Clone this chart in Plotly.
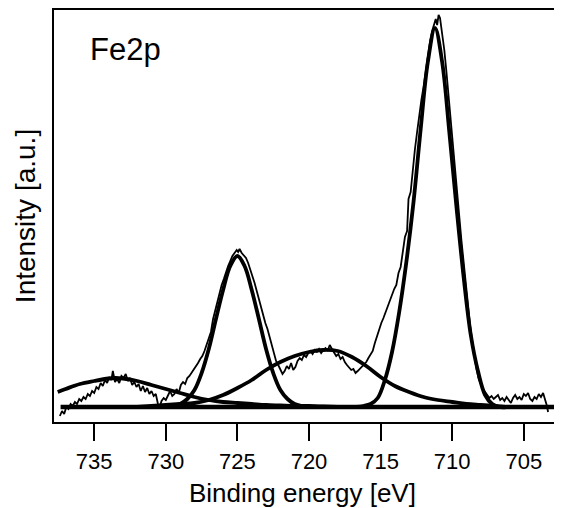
import plotly.graph_objects as go

# --- measured Fe2p spectrum (binding energy in eV, intensity in a.u.) ---
spec_be = [737.4, 737.25, 737.1, 736.95, 736.8, 736.65, 736.5, 736.35, 736.2, 736.05,
           735.9, 735.75, 735.6, 735.45, 735.3, 735.15, 735.0, 734.85, 734.7, 734.55,
           734.4, 734.25, 734.1, 733.95, 733.8, 733.7, 733.55, 733.4, 733.25, 733.1,
           732.95, 732.8, 732.65, 732.5, 732.35, 732.2, 732.05, 731.9, 731.75, 731.6,
           731.45, 731.3, 731.15, 731.0, 730.85, 730.7, 730.55, 730.45, 730.3, 730.15,
           730.0, 729.85, 729.7, 729.55, 729.4, 729.25, 729.1, 728.95, 728.8, 728.65,
           728.5, 728.35, 728.2, 728.05, 727.9, 727.75, 727.6, 727.45, 727.3, 727.15,
           727.0, 726.85, 726.7, 726.55, 726.4, 726.25, 726.1, 725.95, 725.8, 725.65,
           725.5, 725.35, 725.2, 725.05, 724.95, 724.85, 724.7, 724.55, 724.4, 724.25,
           724.1, 723.95, 723.8, 723.65, 723.5, 723.35, 723.2, 723.05, 722.9, 722.75,
           722.6, 722.45, 722.3, 722.15, 722.0, 721.85, 721.7, 721.55, 721.4, 721.25,
           721.1, 720.95, 720.8, 720.65, 720.5, 720.35, 720.2, 720.05, 719.9, 719.75,
           719.6, 719.45, 719.3, 719.15, 719.0, 718.85, 718.7, 718.55, 718.4, 718.25,
           718.1, 717.95, 717.8, 717.65, 717.5, 717.35, 717.2, 717.05, 716.9, 716.75,
           716.6, 716.45, 716.3, 716.15, 716.0, 715.85, 715.7, 715.55, 715.4, 715.25,
           715.1, 714.95, 714.8, 714.65, 714.5, 714.35, 714.2, 714.05, 713.9, 713.75,
           713.6, 713.45, 713.3, 713.15, 713.05, 712.9, 712.75, 712.6, 712.45, 712.3,
           712.15, 712.0, 711.85, 711.7, 711.55, 711.4, 711.25, 711.15, 711.05, 710.95,
           710.85, 710.7, 710.55, 710.4, 710.25, 710.1, 709.95, 709.8, 709.65, 709.5,
           709.35, 709.2, 709.05, 708.9, 708.75, 708.6, 708.45, 708.3, 708.15, 708.0,
           707.85, 707.7, 707.55, 707.4, 707.25, 707.1, 706.95, 706.8, 706.65, 706.5,
           706.35, 706.2, 706.05, 705.9, 705.75, 705.6, 705.45, 705.3, 705.15, 705.0,
           704.85, 704.7, 704.55, 704.4, 704.25, 704.1, 703.95, 703.8, 703.65, 703.5,
           703.4, 703.3]
spec_int = [-9, -4, -7, 0, -2, 3, 1, 5, 3, 8,
            6, 10, 8, 13, 11, 16, 14, 20, 18, 24,
            21, 27, 24, 30, 27, 36, 25, 28, 24, 31,
            29, 33, 26, 29, 22, 25, 20, 23, 16, 21,
            15, 19, 13, 16, 11, 13, 3, -1, 6, 9,
            7, 12, 16, 11, 13, 18, 14, 22, 25, 23,
            29, 31, 34, 37, 41, 44, 48, 51, 56, 62,
            68, 75, 88, 97, 105, 114, 122, 128, 135, 141,
            146, 151, 154, 157, 155, 158, 154, 152, 149, 144,
            138, 131, 124, 116, 108, 99, 90, 84, 78, 70,
            60, 53, 46, 42, 38, 33, 36, 41, 38, 44,
            37, 40, 46, 49, 47, 52, 50, 54, 56, 53,
            57, 55, 58, 54, 57, 59, 56, 62, 58, 55,
            51, 53, 48, 50, 45, 42, 40, 37, 38, 34,
            36, 38, 40, 43, 45, 49, 52, 56, 64, 71,
            77, 84, 89, 95, 100, 106, 112, 118, 122, 134,
            140, 155, 170, 176, 208, 215, 240, 258, 275, 292,
            307, 320, 336, 350, 365, 376, 384, 388, 382, 392,
            389, 375, 357, 335, 312, 286, 262, 238, 214, 190,
            166, 143, 122, 100, 82, 66, 50, 38, 28, 22,
            18, 15, 12, 9, 11, 8, 10, 12, 7, 9,
            6, 10, 7, 4, 9, 12, 8, 10, 7, 13,
            11, 14, 8, 6, 10, 8, 13, 10, 14, 7,
            2, -5]

# --- fitted components ---
peak_a_be = [716.7, 716.2, 715.7, 715.2, 714.7, 714.2, 713.7, 713.2, 712.7, 712.2, 711.7,
             711.2, 710.7, 710.2, 709.7, 709.2, 708.7, 708.2, 707.7, 707.2, 706.7, 706.2]
peak_a_int = [0, 1, 3, 9, 27, 55, 95, 145, 205, 278, 345,
              379, 345, 275, 200, 130, 72, 36, 12, 3, 0, 0]

peak_b_be = [730.5, 730.0, 729.5, 729.0, 728.5, 728.0, 727.5, 727.0, 726.5, 726.0, 725.5, 725.0,
             724.5, 724.0, 723.5, 723.0, 722.5, 722.0, 721.5, 721.0, 720.5, 720.0, 719.5]
peak_b_int = [0, 0, 1, 3, 8, 17, 34, 58, 88, 117, 141, 151,
              141, 117, 88, 58, 34, 17, 8, 3, 1, 0, 0]

sat_c_be = [732, 731, 730, 729, 728, 727, 726, 725, 724, 723, 722, 721, 720, 719,
            718, 717, 716, 715, 714, 713, 712, 711, 710, 709, 708, 707, 706, 705]
sat_c_int = [0, 1, 2, 3, 4, 7, 12, 19, 27, 37, 45, 51, 55, 57,
             56, 50, 41, 30, 21, 15, 10, 7, 5, 3, 2, 1, 0, 0]

sat_d_be = [737.55, 737.0, 736.0, 735.0, 734.0, 733.5, 733.0, 732.0, 731.0, 730.0, 729.0,
            728.0, 727.0, 726.0, 725.0, 724.0, 723.0, 722.0, 721.0, 720.0, 719.0, 718.0]
sat_d_int = [15, 18, 23, 26, 28.5, 29, 28.5, 26, 22, 18, 14,
             10, 7, 5, 4, 3, 2, 1.5, 1, 1, 0.5, 0]

base_be = [737.35, 702.0]
base_int = [0, 0]

x_ticks = [735, 730, 725, 720, 715, 710, 705]

FONT = "Liberation Sans, Arial, Helvetica, sans-serif"

fig = go.Figure()

fig.add_trace(go.Scatter(x=spec_be, y=spec_int, mode="lines",
                         line=dict(color="black", width=1.8)))

for xs, ys in [(peak_a_be, peak_a_int), (peak_b_be, peak_b_int),
               (sat_c_be, sat_c_int), (sat_d_be, sat_d_int)]:
    fig.add_trace(go.Scatter(x=xs, y=ys, mode="lines",
                             line=dict(color="black", width=3.8, shape="spline", smoothing=1.0)))

fig.add_trace(go.Scatter(x=base_be, y=base_int, mode="lines",
                         line=dict(color="black", width=4.5)))

fig.add_annotation(text="Fe2p", xref="paper", yref="paper", x=0.066, y=0.903,
                   xanchor="left", yanchor="middle", showarrow=False,
                   font=dict(family=FONT, size=31, color="black"))

# x title as an annotation so it can sit as low as in the original (descenders touch the bottom)
fig.add_annotation(text="Binding energy [eV]", xref="paper", yref="paper", x=0.49, y=-0.172,
                   xanchor="center", yanchor="middle", showarrow=False,
                   font=dict(family=FONT, size=26, color="black"))

# page body has an 8px margin, so the figure is sized to fill the rest of the window
fig.update_layout(
    width=554, height=500,
    margin=dict(l=46, r=0, t=2, b=86),
    plot_bgcolor="white", paper_bgcolor="white",
    showlegend=False,
    font=dict(family=FONT, color="black"),
)
fig.update_xaxes(
    range=[737.81, 702.33], tickvals=x_ticks, automargin=False,
    ticks="outside", ticklen=17, tickwidth=2, tickcolor="black",
    showline=True, linewidth=2, linecolor="black", mirror=True,
    showgrid=False, zeroline=False,
    tickfont=dict(family=FONT, size=22, color="black"), ticklabelstandoff=2,
)
fig.update_yaxes(
    range=[-15, 397], showticklabels=False, ticks="", automargin=False,
    showline=True, linewidth=2, linecolor="black", mirror=False,
    showgrid=False, zeroline=False,
    title=dict(text="Intensity [a.u.]", font=dict(family=FONT, size=28, color="black"), standoff=8),
)

fig.write_html("out.html")
